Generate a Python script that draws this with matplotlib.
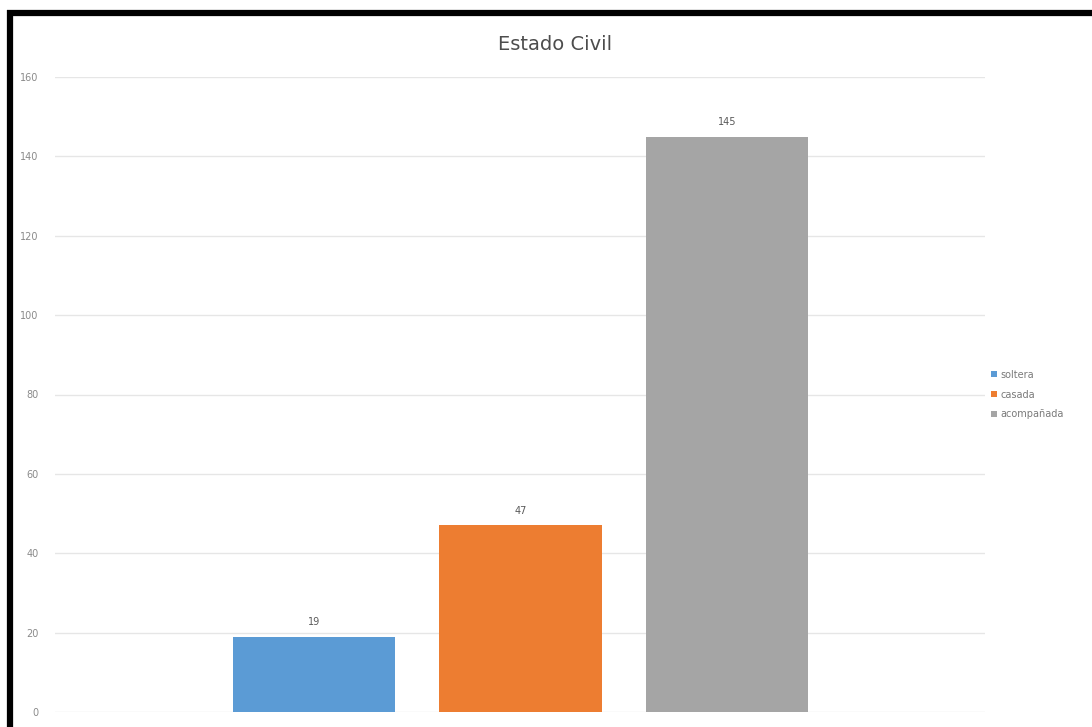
import matplotlib.pyplot as plt
from matplotlib.lines import Line2D

categorias = ["soltera", "casada", "acompañada"]
valores = [19, 47, 145]
colores = ["#5b9bd5", "#ed7d31", "#a5a5a5"]
ticks_y = [0, 20, 40, 60, 80, 100, 120, 140, 160]

fig = plt.figure(figsize=(10.92, 7.27), dpi=100)
ax = fig.add_axes([55 / 1092, 15 / 727, 930 / 1092, 635 / 727])

pos = list(range(len(categorias)))
barras = ax.bar(pos, valores, width=0.786, color=colores, label=categorias, zorder=3)
for b, v in zip(barras, valores):
    ax.text(b.get_x() + b.get_width() / 2, v + 2.5, str(v), ha="center", va="bottom",
            fontsize=7, color="#595959")

ax.set_xlim(-1.255, 3.25)
ax.set_ylim(0, 160)
ax.set_yticks(ticks_y)
ax.set_xticks([])
ax.tick_params(axis="y", length=0, labelsize=7, labelcolor="#8a8a8a", pad=12)
ax.grid(axis="y", color="#e6e6e6", linewidth=1, zorder=0)
for s in ax.spines.values():
    s.set_visible(False)

fig.text(555 / 1092, 1 - 45 / 727, "Estado Civil", ha="center", va="center",
         fontsize=14, color="#4d4d4d")

ax.legend(loc="center left", bbox_to_anchor=(1.0, 0.5), frameon=False, fontsize=7,
          labelcolor="#7a7a7a", handlelength=0.6, handleheight=0.6, handletextpad=0.4,
          labelspacing=1.0, borderaxespad=0.2)

# marco negro superior e izquierdo
fig.add_artist(Line2D([7 / 1092, 1], [1 - 13 / 727, 1 - 13 / 727], color="black",
                      linewidth=4.5, solid_capstyle="butt", transform=fig.transFigure))
fig.add_artist(Line2D([9.5 / 1092, 9.5 / 1092], [0, 1 - 10 / 727], color="black",
                      linewidth=4.5, solid_capstyle="butt", transform=fig.transFigure))

fig.savefig("out.png", dpi=100)
